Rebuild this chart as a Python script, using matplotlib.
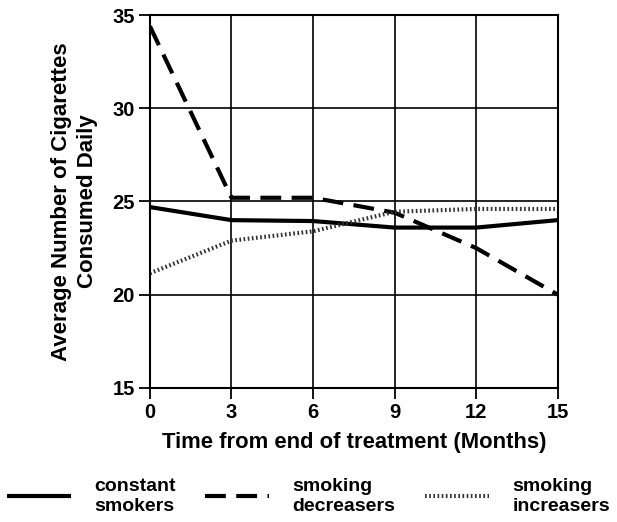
import matplotlib.pyplot as plt
import numpy as np

plt.rcParams['font.family'] = ['Liberation Sans', 'DejaVu Sans']
plt.rcParams['font.weight'] = 'bold'

# months after end of treatment
months = [0, 3, 6, 9, 12, 15]
constant = [24.7, 24.0, 23.95, 23.6, 23.6, 24.0]
decreasers = [34.4, 25.2, 25.2, 24.4, 22.5, 20.0]
increasers = [21.15, 22.9, 23.4, 24.45, 24.6, 24.6]

fig = plt.figure(figsize=(6.17, 5.22), dpi=100)
ax = fig.add_axes([0.243, 0.257, 0.661, 0.714])

ax.plot(months, constant, color='black', lw=3, solid_capstyle='butt',
        label='constant\nsmokers')
ax.plot(months, decreasers, color='black', lw=3, linestyle=(0, (5, 2.5)),
        label='smoking\ndecreasers')
ax.plot(months, increasers, color='#333333', lw=3, linestyle=(0, (0.4, 0.6)),
        label='smoking\nincreasers')

ax.set_xlim(0, 15)
ax.set_ylim(15, 35)
ax.set_xticks(months)
ax.set_yticks([15, 20, 25, 30, 35])
ax.grid(True, color='black', lw=1.2)
ax.set_axisbelow(True)
for s in ax.spines.values():
    s.set_linewidth(1.5)
ax.tick_params(direction='out', length=8, width=1.3, labelsize=14.5, pad=3)
for lab in ax.get_xticklabels() + ax.get_yticklabels():
    lab.set_fontweight('bold')

ax.set_xlabel('Time from end of treatment (Months)', fontsize=15.8,
              fontweight='bold', labelpad=7)
ax.set_ylabel('Average Number of Cigarettes\nConsumed Daily', fontsize=16,
              fontweight='bold', labelpad=10, linespacing=1.3)

fig.legend(loc='lower center', bbox_to_anchor=(0.5, -0.02), ncol=3,
           frameon=False, fontsize=14, handlelength=3.3,
           columnspacing=1.5, handletextpad=1.2)

fig.savefig('out.png', dpi=100)
